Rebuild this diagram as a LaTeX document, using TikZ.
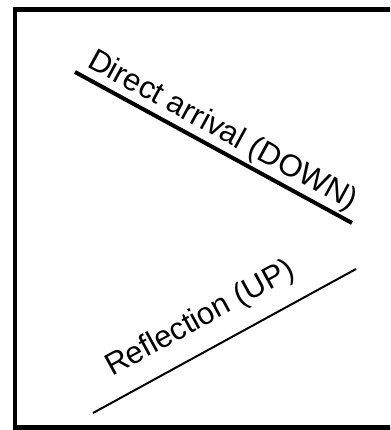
\documentclass[tikz,border=0pt]{standalone}
\usepackage{fontspec}
\setmainfont{Liberation Sans}
\begin{document}
\begin{tikzpicture}[x=1pt,y=-1pt,
  frame/.style={line width=4.8pt},
  downline/.style={line width=4pt},
  upline/.style={line width=2pt},
  lbl/.style={inner sep=0pt,font=\fontsize{31}{31}\selectfont}]
\useasboundingbox (0,0) rectangle (390,430);
\clip (0,0) rectangle (390,430);
% open frame (continues past the right edge)
\draw[frame] (400,9.5) -- (15,9.5) -- (15,427.5) -- (400,427.5);
% direct arrival
\coordinate (dA) at (75,72);
\coordinate (dB) at (352,223);
\draw[downline] (dA) -- (dB);
\node[lbl,anchor=base west,rotate=-28.6] (dT) at (86,66) {Direct arrival (DOWN)};
% reflection
\coordinate (uA) at (93,413);
\coordinate (uB) at (356,269);
\draw[upline] (uA) -- (uB);
\node[lbl,anchor=base west,rotate=28.7] (uT) at (112,377) {Reflection (UP)};
\end{tikzpicture}
\end{document}
